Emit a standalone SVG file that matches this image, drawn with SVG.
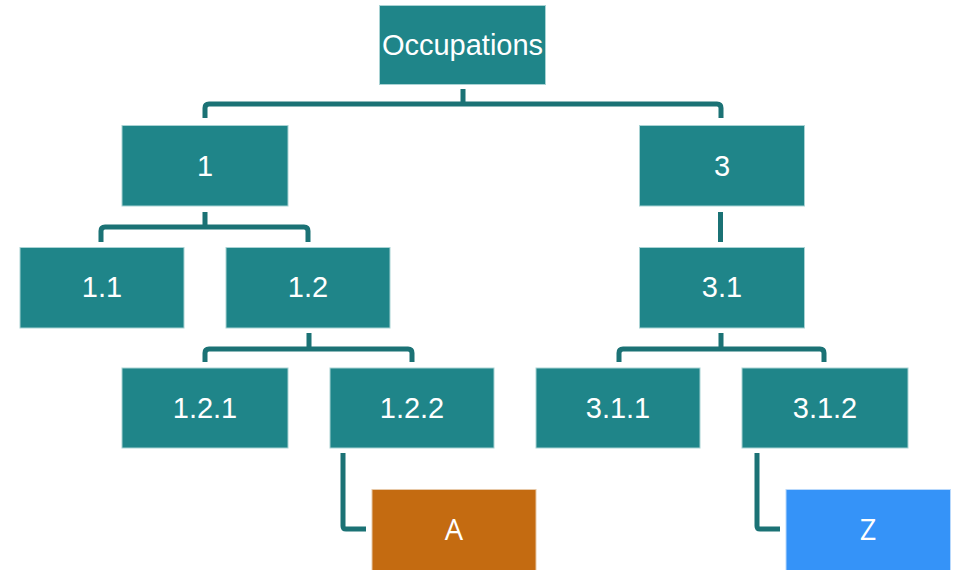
<svg xmlns="http://www.w3.org/2000/svg" width="959" height="570" viewBox="0 0 959 570">
<style>
.box{fill:#1f8589;stroke:#a9d3d4;stroke-width:1}
.a{fill:#c46b11;stroke:#e8c9a8;stroke-width:1}
.z{fill:#3593f8;stroke:#b9d9fc;stroke-width:1}
.lbl{font-family:"Liberation Sans",Arial,sans-serif;font-size:29px;fill:#ffffff;text-anchor:middle}
.lbl2{font-family:"Open Sans","Noto Sans",sans-serif;font-size:29px;fill:#ffffff;text-anchor:middle}
.con{fill:none;stroke:#1b7275;stroke-width:5;stroke-linejoin:round}
</style>
<rect width="959" height="570" fill="#ffffff"/>
<g id="connectors">
<path class="con" d="M463,89 V104 M205,118 V108 Q205,104 209,104 H717 Q721,104 721,108 V118"/>
<path class="con" d="M205,212 V227 M101,242 V231 Q101,227 105,227 H304 Q308,227 308,231 V242"/>
<path class="con" d="M720.5,212 V242"/>
<path class="con" d="M309,333 V349 M205,362 V353 Q205,349 209,349 H408 Q412,349 412,353 V362"/>
<path class="con" d="M721,333 V349 M619,362 V353 Q619,349 623,349 H820 Q824,349 824,353 V362"/>
<path class="con" d="M343,453 V526 Q343,529 346,529 H366"/>
<path class="con" d="M757,453 V526 Q757,529 760,529 H780"/>
</g>
<g id="occupations"><rect class="box" x="379.5" y="5.5" width="166" height="79"/><text class="lbl" x="462.5" y="54.5">Occupations</text></g>
<g id="n1"><rect class="box" x="122" y="125.5" width="166" height="80.5"/><text class="lbl" x="205" y="176">1</text></g>
<g id="n3"><rect class="box" x="639.5" y="125.5" width="165" height="80.5"/><text class="lbl" x="722" y="176">3</text></g>
<g id="n1_1"><rect class="box" x="20" y="247.5" width="164" height="80.5"/><text class="lbl" x="102" y="297">1.1</text></g>
<g id="n1_2"><rect class="box" x="226" y="247.5" width="164" height="80.5"/><text class="lbl" x="308" y="297">1.2</text></g>
<g id="n3_1"><rect class="box" x="639.5" y="247.5" width="165" height="80.5"/><text class="lbl" x="722" y="297">3.1</text></g>
<g id="n1_2_1"><rect class="box" x="122" y="368" width="166" height="80"/><text class="lbl" x="205" y="418">1.2.1</text></g>
<g id="n1_2_2"><rect class="box" x="330" y="368" width="164" height="80"/><text class="lbl" x="412" y="418">1.2.2</text></g>
<g id="n3_1_1"><rect class="box" x="536" y="368" width="164" height="80"/><text class="lbl" x="618" y="418">3.1.1</text></g>
<g id="n3_1_2"><rect class="box" x="742" y="368" width="166" height="80"/><text class="lbl" x="825" y="418">3.1.2</text></g>
<g id="nA"><rect class="a" x="372" y="489.5" width="164" height="82"/><text class="lbl2" x="454" y="539.5">A</text></g>
<g id="nZ"><rect class="z" x="786" y="489.5" width="164.5" height="82"/><text class="lbl2" x="868" y="539.5">Z</text></g>
</svg>
